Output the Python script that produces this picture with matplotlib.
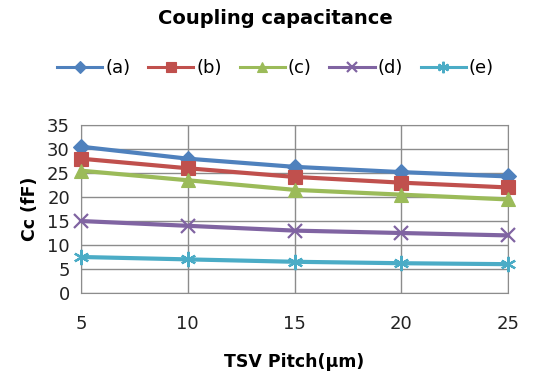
import matplotlib
matplotlib.use("Agg")
import matplotlib.pyplot as plt

pitch = [5, 10, 15, 20, 25]
series_names = ["(a)", "(b)", "(c)", "(d)", "(e)"]
a_vals = [30.5, 28.0, 26.3, 25.2, 24.3]
b_vals = [28.0, 26.0, 24.2, 23.0, 22.0]
c_vals = [25.5, 23.5, 21.5, 20.5, 19.5]
d_vals = [15.0, 14.0, 13.0, 12.5, 12.0]
e_vals = [7.5, 7.0, 6.5, 6.2, 6.0]
yticks = [0, 5, 10, 15, 20, 25, 30, 35]

colors = ["#4F81BD", "#C0504D", "#9BBB59", "#8064A2", "#4BACC6"]
markers = ["D", "s", "^", "x", (6, 2, 0)]
msizes = [8, 10, 10, 10, 11]

fig = plt.figure(figsize=(5.51, 3.78), dpi=100)
ax = fig.add_axes([0.147, 0.225, 0.775, 0.444])

for vals, name, c, m, ms in zip([a_vals, b_vals, c_vals, d_vals, e_vals],
                                series_names, colors, markers, msizes):
    ax.plot(pitch, vals, color=c, lw=3.0, marker=m, markersize=ms,
            markeredgewidth=1.6 if m in ("x",) or isinstance(m, tuple) else 0.8,
            markeredgecolor=c, label=name, clip_on=False, zorder=3)

ax.set_xlim(5, 25)
ax.set_ylim(0, 35)
ax.set_xticks(pitch)
ax.set_yticks(yticks)
ax.grid(True, color="#8c8c8c", lw=1.0)
for s in ax.spines.values():
    s.set_color("#8c8c8c")
ax.tick_params(length=0, labelsize=13, colors="#222222")
ax.tick_params(axis="x", pad=16)
ax.tick_params(axis="y", pad=8)
ax.set_xlabel("TSV Pitch(μm)", fontsize=12.5, fontweight="bold", labelpad=14)
ax.set_ylabel("Cc (fF)", fontsize=12.5, fontweight="bold", labelpad=6)

fig.text(0.5, 0.95, "Coupling capacitance", ha="center", va="center",
         fontsize=14, fontweight="bold")
leg = fig.legend(loc="center", bbox_to_anchor=(0.5, 0.82), ncol=5, frameon=False,
                 fontsize=13, handlelength=2.5, columnspacing=1.0,
                 handletextpad=0.15, markerscale=0.75)
for h in leg.legend_handles:
    h.set_linewidth(2.2)

fig.savefig("out.png", dpi=100)
